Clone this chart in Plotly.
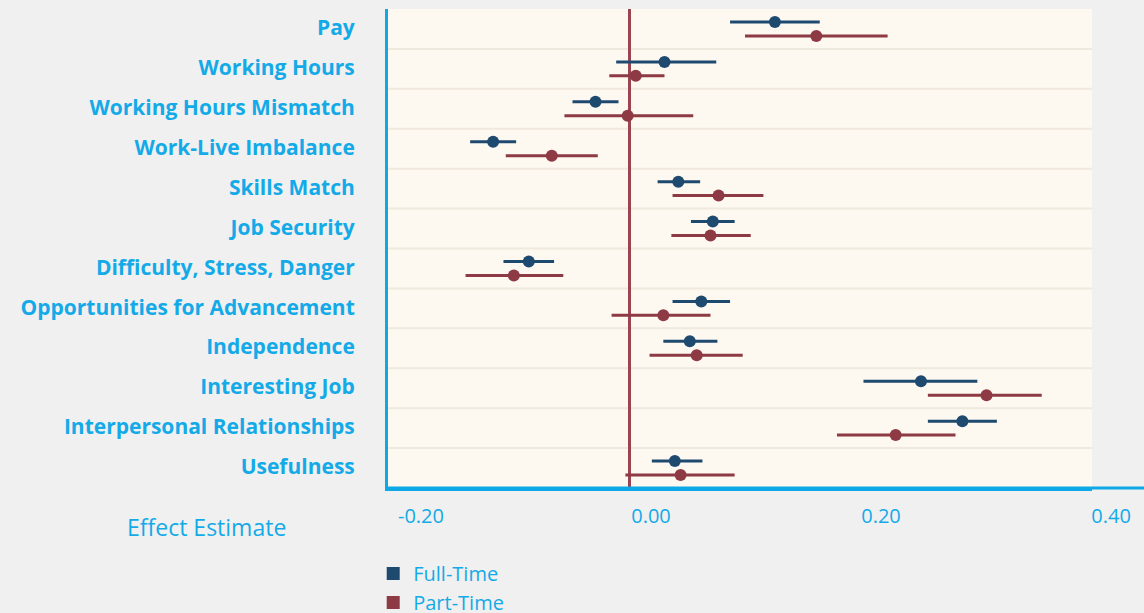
import plotly.graph_objects as go

categories = ["Pay", "Working Hours", "Working Hours Mismatch", "Work-Live Imbalance",
              "Skills Match", "Job Security", "Difficulty, Stress, Danger",
              "Opportunities for Advancement", "Independence", "Interesting Job",
              "Interpersonal Relationships", "Usefulness"]

ft_est = [0.126, 0.030, -0.030, -0.119, 0.042, 0.072, -0.088, 0.062, 0.052, 0.253, 0.289, 0.039]
ft_lo  = [0.087, -0.012, -0.050, -0.139, 0.024, 0.053, -0.110, 0.037, 0.029, 0.203, 0.259, 0.019]
ft_hi  = [0.165, 0.075, -0.010, -0.099, 0.061, 0.091, -0.066, 0.087, 0.076, 0.302, 0.319, 0.063]

pt_est = [0.162, 0.005, -0.002, -0.068, 0.077, 0.070, -0.101, 0.029, 0.058, 0.310, 0.231, 0.044]
pt_lo  = [0.100, -0.018, -0.057, -0.108, 0.037, 0.036, -0.143, -0.016, 0.017, 0.259, 0.180, -0.004]
pt_hi  = [0.224, 0.030, 0.055, -0.028, 0.116, 0.105, -0.058, 0.070, 0.098, 0.358, 0.283, 0.091]

x_ticks = [-0.2, 0.0, 0.2, 0.4]
x_ticklabels = ["-0.20", "0.00", "0.20", "0.40"]

FT_COLOR = "#1f4a70"
PT_COLOR = "#8e3a44"
LABEL_BLUE = "#14aae8"
FONT = "Open Sans"

n = len(categories)
idx = list(range(n))
y_ft = [i - 0.175 for i in idx]
y_pt = [i + 0.175 for i in idx]

fig = go.Figure()

def add_series(est, lo, hi, yy, color, name):
    fig.add_trace(go.Scatter(
        x=est, y=yy, mode="markers", name=name, showlegend=False,
        marker=dict(color=color, size=12, symbol="circle"),
        error_x=dict(type="data", symmetric=False,
                     array=[h - e for h, e in zip(hi, est)],
                     arrayminus=[e - l for e, l in zip(est, lo)],
                     color=color, thickness=3, width=0),
        hovertemplate="%{x:.3f}<extra>" + name + "</extra>",
    ))

add_series(ft_est, ft_lo, ft_hi, y_ft, FT_COLOR, "Full-Time")
add_series(pt_est, pt_lo, pt_hi, y_pt, PT_COLOR, "Part-Time")

# legend entries (square swatches)
for name, color in [("Full-Time", FT_COLOR), ("Part-Time", PT_COLOR)]:
    fig.add_trace(go.Scatter(x=[None], y=[None], mode="markers", name=name,
                             marker=dict(color=color, size=13, symbol="square")))

fig.update_layout(
    width=1144, height=613,
    paper_bgcolor="#f0f0f0", plot_bgcolor="#fdf8f0",
    margin=dict(l=388, r=52, t=9, b=125, autoexpand=False),
    font=dict(family=FONT, color=LABEL_BLUE),
    showlegend=True,
    legend=dict(x=-0.021, xanchor="left", y=-0.138, yanchor="top",
                orientation="v", bgcolor="rgba(0,0,0,0)",
                font=dict(size=20, color=LABEL_BLUE, family=FONT),
                tracegroupgap=0, itemwidth=30),
    xaxis=dict(range=[-0.2104, 0.4017], tickvals=x_ticks, ticktext=x_ticklabels,
               showgrid=False, zeroline=True, zerolinecolor="#9c4552", zerolinewidth=3,
               showline=True, linecolor="#0fa8e6", linewidth=3,
               ticks="", ticklabelshift=21, ticklabelstandoff=8,
               tickfont=dict(size=20, color=LABEL_BLUE, family=FONT), fixedrange=True),
    yaxis=dict(range=[n - 0.5, -0.5],
               tickvals=[i - 0.03 for i in idx], ticktext=categories,
               showgrid=False, zeroline=False,
               showline=True, linecolor="#0fa8e6", linewidth=3, mirror=False,
               ticks="", ticklabelstandoff=26,
               tickfont=dict(size=21, color=LABEL_BLUE, family=FONT, weight="bold"),
               fixedrange=True),
    annotations=[dict(text="Effect Estimate", xref="paper", yref="paper",
                      x=-0.2585, y=-0.0814, xanchor="center", yanchor="middle",
                      showarrow=False,
                      font=dict(size=23, color=LABEL_BLUE, family=FONT))],
)

# row separator gridlines
shapes = []
for i in range(n - 1):
    shapes.append(dict(type="line", xref="paper", yref="y", x0=0, x1=1,
                       y0=i + 0.5, y1=i + 0.5, layer="below",
                       line=dict(color="#f0e9de", width=2)))
# bottom axis line extension to the right edge
shapes.append(dict(type="line", xref="paper", yref="paper", x0=0, x1=1.08,
                   y0=0, y1=0, line=dict(color="#0fa8e6", width=3)))
fig.update_layout(shapes=shapes)

fig.write_html("out.html",
               config={"displayModeBar": False},
               post_script="document.body.style.margin='0';"
                           "document.body.style.background='#f0f0f0';"
                           "document.body.style.overflow='hidden';")
